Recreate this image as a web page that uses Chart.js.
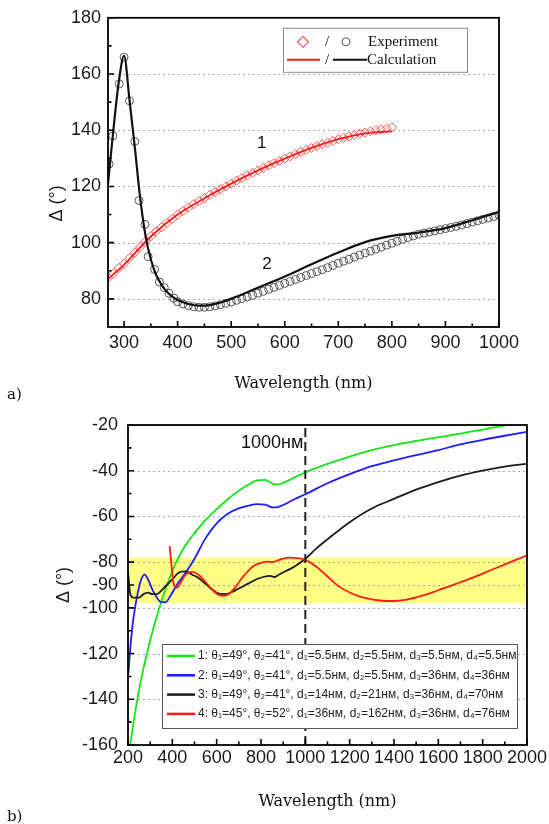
<!DOCTYPE html>
<html><head><meta charset="utf-8">
<script src="https://cdn.jsdelivr.net/npm/chart.js@4.4.0/dist/chart.umd.min.js"></script>
<style>
html,body{margin:0;padding:0;background:#fff;}
#wrap{position:relative;width:549px;height:824px;overflow:hidden;background:#fff;}
canvas{position:absolute;left:0;}
#c1{top:0}
#c2{top:400px}
.lab{position:absolute;font-family:'DejaVu Serif',serif;font-size:15px;color:#111;line-height:18px;}
</style></head><body>
<div id="wrap">
<canvas id="c1" width="549" height="400"></canvas>
<canvas id="c2" width="549" height="424"></canvas>
<div class="lab" style="left:7px;top:385px">a)</div>
<div class="lab" style="left:7px;top:807px">b)</div>
</div>
<script>
// ================= DATA: chart a) =================
const aXTicks = [300,400,500,600,700,800,900,1000];
const aXMinor = [350,450,550,650,750,850,950];
const aYTicks = [80,100,120,140,160,180];
const aYMinor = [90,110,130,150,170];
const aYGrid  = [80,100,120,140,160];

// curve 1 (red) experiment, diamonds
const exp1X = [270,280,290,300,310,320,330,340,350,360,370,380,390,400,410,420,430,440,450,460,470,480,490,500,510,520,530,540,550,560,570,580,590,600,610,620,630,640,650,660,670,680,690,700,710,720,730,740,750,760,770,780,790,800];
const exp1Y = [87.5,89,91,92.5,94.5,96.5,98.5,100.5,102.3,104,105.5,107,108.5,110,111.3,112.5,113.7,114.8,115.9,117,118,119,120,121,122,123,123.9,124.8,125.7,126.6,127.5,128.3,129.1,129.9,130.7,131.5,132.3,133,133.7,134.4,135,135.6,136.2,136.8,137.3,137.8,138.3,138.8,139.2,139.6,140,140.3,140.6,141];
// curve 1 (red) calculation
const calc1X = [270,300,350,400,450,500,550,600,650,700,750,800];
const calc1Y = [87,92.2,102.2,110,115.8,121,125.7,129.9,133.7,136.8,138.9,139.6];
// curve 2 (black) experiment, circles
const exp2X = [272,279,291,300,310,320,328,339,345,357,366,375,384,393,400,410,420,430,440,450,460,470,480,490,500,510,520,530,540,550,560,570,580,590,600,610,620,630,640,650,660,670,680,690,700,710,720,730,740,750,760,770,780,790,800,810,820,830,840,850,860,870,880,890,900,910,920,930,940,950,960,970,980,990,1000];
const exp2Y = [128,138,156.5,166,150.5,136,115,106.5,95,90.5,86,84,82,80.3,79,78.2,77.6,77.2,77,77,77.2,77.5,77.9,78.4,78.9,79.5,80.1,80.7,81.3,82,82.7,83.4,84.1,84.8,85.5,86.2,86.9,87.6,88.3,89,89.7,90.4,91.1,91.9,92.7,93.4,94.1,94.9,95.6,96.3,97,97.7,98.4,99.1,99.8,100.5,101.2,101.8,102.4,103,103.4,103.8,104.2,104.6,105,105.4,105.8,106.3,106.8,107.3,107.8,108.3,108.8,109.3,109.8];
// curve 2 (black) calculation
const calc2X = [270,280,290,300,310,320,330,340,350,360,370,380,390,400,420,440,460,480,500,550,600,650,700,750,800,850,900,950,1000];
const calc2Y = [121,140,157,166.5,151,134,116,102.5,94,88.5,85,82.5,80.8,79.6,78.2,77.6,77.8,78.7,80,84,88,92.3,96.5,100.2,102.4,103.6,105.2,108,111];
const aLegendText = ['Experiment','Calculation'];
const aCurveNames = ['1','2'];

// ================= DATA: chart b) =================
const bXTicks = [200,400,600,800,1000,1200,1400,1600,1800,2000];
const bXMinor = [300,500,700,900,1100,1300,1500,1700,1900];
const bYTicks = [-20,-40,-60,-80,-90,-100,-120,-140,-160];
const bYMinor = [-30,-50,-70,-110,-130,-150];
const bYGrid  = [-40,-60,-80,-90,-100,-120,-140];
const bBand = [-78,-98];
const bMarkX = 1000;
const bMarkText = '1000нм';

const s1X = [210,230,250,270,290,320,340,360,380,400,425,450,475,500,550,600,650,700,750,780,820,840,860,880,900,950,1000,1100,1200,1300,1400,1500,1600,1700,1800,1900,2000];
const s1Y = [-160,-147,-136,-126.5,-118,-107,-100.5,-94.5,-89,-84,-78.5,-74,-70.5,-67.3,-61.5,-56.8,-52.5,-48.8,-45.7,-44.2,-44,-45,-46,-46,-45.3,-43,-40.7,-37,-33.8,-31,-28.8,-27,-25.3,-23.8,-22,-20.2,-18.5];
const s2X = [200,210,220,230,245,260,275,290,310,330,350,370,390,420,450,500,550,600,650,700,750,780,820,850,870,900,950,1000,1100,1200,1300,1400,1500,1600,1700,1800,1900,2000];
const s2Y = [-131,-118,-108,-101,-93,-87.5,-85.5,-87.5,-92,-95.5,-97.5,-97.5,-95,-90,-86,-78.5,-69.5,-63,-58.8,-56.5,-55.2,-54.6,-54.8,-56,-56,-55,-52.5,-50.3,-45.5,-41.5,-38,-35.5,-33.2,-31,-28.5,-26.5,-24.7,-23];
const s3X = [200,205,212,225,250,270,290,310,330,350,375,400,430,460,490,520,550,580,610,640,670,700,740,780,810,840,860,880,910,950,1000,1050,1100,1200,1300,1400,1500,1600,1700,1800,1900,2000];
const s3Y = [-84,-90,-94.5,-95.5,-95.5,-94,-93.3,-94,-94,-92.5,-90,-87.5,-84.5,-84,-85.5,-87,-89.5,-92,-93.8,-94,-93,-91.5,-89.5,-87.5,-86.5,-86,-86.5,-85.5,-84,-82,-78.5,-74,-70,-62.5,-56.5,-52.3,-48.3,-45,-42.2,-40,-38.2,-37];
const s4X = [388,395,402,410,420,435,455,475,490,510,540,570,600,625,650,680,710,740,770,800,830,850,870,900,930,960,1000,1050,1100,1150,1200,1250,1300,1350,1400,1450,1500,1550,1600,1650,1700,1750,1800,1850,1900,1950,2000];
const s4Y = [-73,-80,-87,-90.5,-91.2,-89.5,-86,-84.5,-84.3,-85,-87.5,-91,-93.8,-94.8,-94.3,-91.5,-87.5,-84,-81.5,-80.3,-79.8,-80,-79.5,-78.5,-78,-78.2,-79,-82,-86.3,-90.5,-93.3,-95.2,-96.3,-96.9,-97,-96.5,-95.4,-94,-92.3,-90.6,-88.8,-87,-85,-83,-81,-79,-77];
const bLegend = [
  '1: θ₁=49°, θ₂=41°, d₁=5.5нм, d₂=5.5нм, d₃=5.5нм, d₄=5.5нм',
  '2: θ₁=49°, θ₂=41°, d₁=5.5нм, d₂=5.5нм, d₃=36нм, d₄=36нм',
  '3: θ₁=49°, θ₂=41°, d₁=14нм, d₂=21нм, d₃=36нм, d₄=70нм',
  '4: θ₁=45°, θ₂=52°, d₁=36нм, d₂=162нм, d₃=36нм, d₄=76нм'
];

// ================= helpers =================
const SANS = "'Liberation Sans', Arial, sans-serif";
const SERIF = "'DejaVu Serif', serif";
Chart.defaults.font.family = SANS;
Chart.defaults.color = '#1a1a1a';

const pts = (xs, ys) => xs.map((x, i) => ({x, y: ys[i]}));

function makeFrame(o) {
  return {
    id: o.id,
    beforeDatasetsDraw(chart) {
      const {ctx, chartArea: a} = chart; const y = chart.scales.y;
      ctx.save();
      if (o.band) {
        const y1 = y.getPixelForValue(o.band[0]), y2 = y.getPixelForValue(o.band[1]);
        ctx.fillStyle = '#ffff86';
        ctx.fillRect(a.left, Math.min(y1, y2), a.right - a.left, Math.abs(y2 - y1));
      }
      ctx.beginPath(); ctx.setLineDash([2, 3]); ctx.strokeStyle = '#a9a9a9'; ctx.lineWidth = 1;
      o.gridY.forEach(v => { const p = Math.round(y.getPixelForValue(v)) + 0.5; ctx.moveTo(a.left, p); ctx.lineTo(a.right, p); });
      ctx.stroke();
      ctx.restore();
    },
    afterDatasetsDraw(chart) {
      const {ctx, chartArea: a} = chart; const x = chart.scales.x, y = chart.scales.y;
      ctx.save(); ctx.setLineDash([]); ctx.strokeStyle = '#000'; ctx.lineWidth = 1.6;
      ctx.beginPath();
      o.majorX.forEach(v => { const p = x.getPixelForValue(v); ctx.moveTo(p, a.bottom); ctx.lineTo(p, a.bottom - 6); });
      o.minorX.forEach(v => { const p = x.getPixelForValue(v); ctx.moveTo(p, a.bottom); ctx.lineTo(p, a.bottom - 3.5); });
      o.majorY.forEach(v => { const p = y.getPixelForValue(v); ctx.moveTo(a.left, p); ctx.lineTo(a.left + 6, p); });
      o.minorY.forEach(v => { const p = y.getPixelForValue(v); ctx.moveTo(a.left, p); ctx.lineTo(a.left + 3.5, p); });
      ctx.stroke();
      ctx.lineWidth = 1.8;
      ctx.strokeRect(a.left, a.top, a.right - a.left, a.bottom - a.top);
      if (o.extra) o.extra(chart, ctx, a, x, y);
      ctx.restore();
    }
  };
}

function baseOptions(c) {
  return {
    responsive: false, animation: false, events: [],
    layout: {padding: {left: 0, top: c.padTop, right: c.padRight, bottom: 0}},
    plugins: {legend: {display: false}, tooltip: {enabled: false}, title: {display: false}},
    scales: {
      x: {
        type: 'linear', min: c.xmin, max: c.xmax,
        grid: {display: false, drawTicks: false}, border: {display: false},
        afterBuildTicks: s => { s.ticks = c.xTicks.map(v => ({value: v})); },
        afterFit: s => { s.height = c.xH; },
        ticks: {autoSkip: false, maxRotation: 0, padding: c.xPad, font: {size: 18}, color: '#1a1a1a', callback: v => String(v)},
        title: {display: true, text: 'Wavelength (nm)', font: {family: SERIF, size: 16}, color: '#111', padding: {top: 0, bottom: c.xTitlePad}}
      },
      y: {
        type: 'linear', min: c.ymin, max: c.ymax,
        grid: {display: false, drawTicks: false}, border: {display: false},
        afterBuildTicks: s => { s.ticks = c.yTicks.map(v => ({value: v})); },
        afterFit: s => { s.width = c.yW; },
        ticks: {autoSkip: false, padding: c.yPad, font: {size: 18}, color: '#1a1a1a', callback: v => String(v)},
        title: {display: c.yTitleShow, text: 'Δ (°)', font: {family: SANS, size: 18}, color: '#1a1a1a', padding: {top: c.yTitlePad, bottom: 0}}
      }
    }
  };
}

// ================= chart a) =================
const RED = '#ff1a1a';
new Chart(document.getElementById('c1'), {
  type: 'scatter',
  data: {datasets: [
    {data: pts(calc2X, calc2Y), showLine: true, borderColor: '#111', borderWidth: 2.2, pointRadius: 0, cubicInterpolationMode: 'monotone', order: 0},
    {data: pts(calc1X, calc1Y), showLine: true, borderColor: RED, borderWidth: 1.8, pointRadius: 0, cubicInterpolationMode: 'monotone', order: 1},
    {data: pts(exp2X, exp2Y), showLine: false, pointStyle: 'circle', pointRadius: 4, borderColor: 'rgba(60,60,60,0.85)', borderWidth: 1, backgroundColor: 'rgba(0,0,0,0)', order: 2},
    {data: pts(exp1X, exp1Y), showLine: false, pointStyle: 'rectRot', pointRadius: 4.6, borderColor: 'rgba(255,70,70,0.9)', borderWidth: 1, backgroundColor: 'rgba(0,0,0,0)', order: 3}
  ]},
  options: baseOptions({xmin: 270, xmax: 1000, ymin: 70, ymax: 180, xTicks: aXTicks, yTicks: aYTicks,
    padTop: 16, padRight: 50, yW: 108, xH: 73, xPad: 5, yPad: 7, xTitlePad: 7, yTitlePad: 46, yTitleShow: false}),
  plugins: [makeFrame({id: 'fa', gridY: aYGrid, majorX: aXTicks, minorX: aXMinor, majorY: aYTicks, minorY: aYMinor,
    extra(chart, ctx, a, x, y) {
      // y axis title
      ctx.save(); ctx.translate(57, y.getPixelForValue(114)); ctx.rotate(-Math.PI / 2);
      ctx.fillStyle = '#1a1a1a'; ctx.font = '18px ' + SANS; ctx.textAlign = 'center'; ctx.textBaseline = 'middle';
      ctx.fillText('Δ (°)', 0, 0); ctx.restore();
      // curve numbers
      ctx.fillStyle = '#111'; ctx.font = '17px ' + SANS; ctx.textAlign = 'center'; ctx.textBaseline = 'middle';
      ctx.fillText(aCurveNames[0], x.getPixelForValue(557), y.getPixelForValue(135.2));
      ctx.fillText(aCurveNames[1], x.getPixelForValue(567), y.getPixelForValue(92.4));
      // legend
      const L = a.right - 216, T = a.top + 10, W = 184, H = 44;
      ctx.fillStyle = '#fff'; ctx.fillRect(L, T, W, H);
      ctx.strokeStyle = '#8a8a8a'; ctx.lineWidth = 1; ctx.strokeRect(L + 0.5, T + 0.5, W, H);
      const r1 = T + 14, r2 = T + 32;
      ctx.strokeStyle = 'rgba(255,70,70,0.9)'; ctx.lineWidth = 1.2;
      ctx.beginPath(); const dx = L + 20; ctx.moveTo(dx, r1 - 5.5); ctx.lineTo(dx + 5.5, r1); ctx.lineTo(dx, r1 + 5.5); ctx.lineTo(dx - 5.5, r1); ctx.closePath(); ctx.stroke();
      ctx.strokeStyle = 'rgba(60,60,60,0.85)'; ctx.lineWidth = 1;
      ctx.beginPath(); ctx.arc(L + 63, r1, 4, 0, Math.PI * 2); ctx.stroke();
      ctx.lineWidth = 2; ctx.strokeStyle = RED; ctx.beginPath(); ctx.moveTo(L + 4, r2); ctx.lineTo(L + 37, r2); ctx.stroke();
      ctx.strokeStyle = '#111'; ctx.beginPath(); ctx.moveTo(L + 50, r2); ctx.lineTo(L + 84, r2); ctx.stroke();
      ctx.fillStyle = '#111'; ctx.font = '15px ' + "'Liberation Serif', serif"; ctx.textBaseline = 'middle';
      ctx.textAlign = 'center'; ctx.fillText('/', L + 44, r1); ctx.fillText('/', L + 44, r2);
      ctx.textAlign = 'left'; ctx.fillText(aLegendText[0], L + 85, r1); ctx.fillText(aLegendText[1], L + 84, r2);
    }})]
});

// ================= chart b) =================
const bColors = ['#14e614', '#1c1cff', '#1a1a1a', '#ff1a1a'];
new Chart(document.getElementById('c2'), {
  type: 'scatter',
  data: {datasets: [
    {data: pts(s1X, s1Y), showLine: true, borderColor: bColors[0], borderWidth: 1.8, pointRadius: 0, cubicInterpolationMode: 'monotone', order: 3},
    {data: pts(s2X, s2Y), showLine: true, borderColor: bColors[1], borderWidth: 1.8, pointRadius: 0, cubicInterpolationMode: 'monotone', order: 2},
    {data: pts(s3X, s3Y), showLine: true, borderColor: bColors[2], borderWidth: 1.8, pointRadius: 0, cubicInterpolationMode: 'monotone', order: 1},
    {data: pts(s4X, s4Y), showLine: true, borderColor: bColors[3], borderWidth: 1.8, pointRadius: 0, cubicInterpolationMode: 'monotone', order: 0},
    {data: [{x: bMarkX, y: -160}, {x: bMarkX, y: -20}], showLine: true, borderColor: '#222', borderWidth: 2, borderDash: [9, 5], pointRadius: 0, order: -1}
  ]},
  options: baseOptions({xmin: 200, xmax: 2000, ymin: -160, ymax: -20, xTicks: bXTicks, yTicks: bYTicks,
    padTop: 25, padRight: 21, yW: 128, xH: 79, xPad: 2, yPad: 10, xTitlePad: 13, yTitlePad: 53, yTitleShow: true}),
  plugins: [makeFrame({id: 'fb', band: bBand, gridY: bYGrid, majorX: bXTicks, minorX: bXMinor, majorY: bYTicks, minorY: bYMinor,
    extra(chart, ctx, a, x, y) {
      ctx.fillStyle = '#111'; ctx.font = '18px ' + SANS; ctx.textAlign = 'right'; ctx.textBaseline = 'middle';
      ctx.fillText(bMarkText, x.getPixelForValue(bMarkX) - 2, a.top + 18);
      const W = 355, H = 84, L = a.right - 10 - W, T = a.bottom - 17 - H;
      ctx.fillStyle = '#fff'; ctx.fillRect(L, T, W, H);
      ctx.strokeStyle = '#555'; ctx.lineWidth = 1; ctx.strokeRect(L + 0.5, T + 0.5, W, H);
      ctx.font = '12px ' + SANS; ctx.textAlign = 'left'; ctx.textBaseline = 'middle';
      bLegend.forEach((t, i) => {
        const ry = T + 12 + i * 19.3;
        ctx.strokeStyle = bColors[i]; ctx.lineWidth = 2.5;
        ctx.beginPath(); ctx.moveTo(L + 5, ry); ctx.lineTo(L + 33, ry); ctx.stroke();
        ctx.fillStyle = '#222'; ctx.fillText(t, L + 36, ry);
      });
    }})]
});
</script>
</body></html>
